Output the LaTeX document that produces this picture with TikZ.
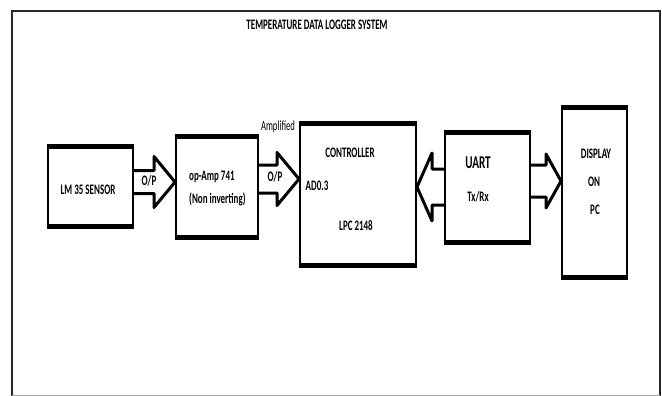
\documentclass[tikz,border=0pt]{standalone}
\usepackage{fontspec}
\setmainfont{Carlito}[FakeStretch=0.62]
\usetikzlibrary{calc}

% hollow block arrow: tail, tip, half shaft, half head, head length
\newcommand{\fatarrow}[5]{%
  \draw[fat] let \p1=#1, \p2=#2, \p3=($#2!#5!#1$) in
    (\x1,\y1+#3) -- (\x3,\y1+#3) -- (\x3,\y1+#4) -- (\x2,\y1)
    -- (\x3,\y1-#4) -- (\x3,\y1-#3) -- (\x1,\y1-#3);}

\begin{document}
\begin{tikzpicture}[x=1pt, y=-1pt,
  box/.style={draw, line width=2pt, inner sep=0pt},
  bar/.style={line width=5pt},
  fat/.style={draw, line width=3pt, line join=round},
  txt/.style={font=\bfseries\fontsize{14.5}{16}\selectfont, inner sep=0pt},
  frame/.style={line width=2pt, draw=black!85}
]
  \useasboundingbox (0,0) rectangle (662,396);
  \draw[frame] (12,396) |- (660,11) -- (660,396);
  \draw[black!35, line width=0.8pt] (12,395) -- (660,395);

  \node[txt, font=\bfseries\fontsize{14.5}{16}\selectfont] (title) at (317,25) {TEMPERATURE DATA LOGGER SYSTEM};

  \node[box, minimum width=85pt, minimum height=81pt] (sensor) at (90.5,186.5) {};
  \node[box, minimum width=82pt, minimum height=102pt] (opamp) at (217,187) {};
  \node[box, minimum width=116pt, minimum height=143pt] (ctrl) at (358,194.5) {};
  \node[box, minimum width=85pt, minimum height=111pt] (uart) at (487.5,187.5) {};
  \node[box, minimum width=65pt, minimum height=171pt] (disp) at (594.5,192.5) {};
  \foreach \b in {sensor,opamp,ctrl,uart,disp} {
    \draw[bar] ([yshift=-1.5pt]\b.north west) -- ([yshift=-1.5pt]\b.north east);
    \draw[bar] ([yshift=1.5pt]\b.south west) -- ([yshift=1.5pt]\b.south east);
  }

  \node[txt] (lm35) at (88,190) {LM 35 SENSOR};
  \node[txt, anchor=west] (opname) at (189,177) {op-Amp 741};
  \node[txt, anchor=west] (opmode) at (189,199) {(Non inverting)};
  \node[txt] (ctrlname) at (350,153) {CONTROLLER};
  \node[txt] (adc) at (317,186) {AD0.3};
  \node[txt] (lpc) at (356,226) {LPC 2148};
  \node[txt, font=\bfseries\fontsize{18}{20}\selectfont] (uartname) at (478,163) {UART};
  \node[txt] (txrx) at (478,197) {Tx/Rx};
  \node[txt] (dispa) at (596,154) {DISPLAY};
  \node[txt] (dispb) at (594,182) {ON};
  \node[txt] (dispc) at (595,210) {PC};

  \fatarrow{(sensor.east |- 0,182)}{(opamp.west |- 0,182)}{11.5pt}{25.5pt}{21pt}
  \fatarrow{(opamp.east |- 0,179)}{(ctrl.west |- 0,179)}{14pt}{26.5pt}{22pt}
  \fatarrow{(uart.west |- 0,187)}{(ctrl.east |- 0,187)}{18pt}{34pt}{15pt}
  \fatarrow{(uart.east |- 0,181)}{(disp.west |- 0,181)}{16pt}{27pt}{15pt}

  \node[txt] (op1) at (149,181) {O/P};
  \node[txt] (op2) at (275,177) {O/P};
  \node[txt, font=\fontsize{14}{15}\selectfont] (amp) at (278,127) {Amplified};
\end{tikzpicture}
\end{document}
